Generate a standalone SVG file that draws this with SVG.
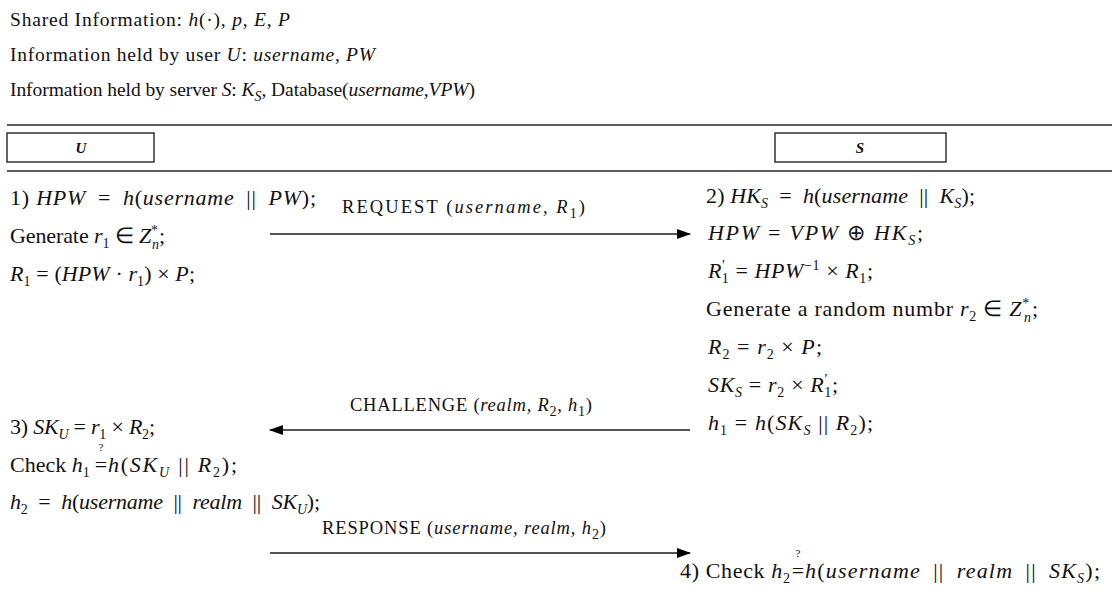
<svg xmlns="http://www.w3.org/2000/svg" width="1112" height="600" viewBox="0 0 1112 600">
<defs>
<style>
text{font-family:"Liberation Serif","Times New Roman",serif;fill:#111;}
.h{font-size:19.5px;}
.b{font-size:22px;}
.i{font-style:italic;}
.s{font-size:14px;}
.lbl{font-size:18.5px;}
.rule{stroke:#222;stroke-width:1.5;}
.box{fill:#fff;stroke:#333;stroke-width:1.5;}
.bl{font-size:15px;font-weight:bold;font-style:italic;text-anchor:middle;}
.arr{stroke:#555;stroke-width:2;fill:none;marker-end:url(#ah);}
.q{font-size:11px;text-anchor:middle;}
</style>
<marker id="ah" viewBox="0 0 14 10" refX="13" refY="5" markerWidth="14" markerHeight="10" markerUnits="userSpaceOnUse" orient="auto">
<path d="M0,0 L14,5 L0,10 Z" fill="#000"/>
</marker>
</defs>
<rect width="1112" height="600" fill="#fff"/>

<g id="header">
<text class="h" x="10" y="26" textLength="280" lengthAdjust="spacing">Shared Information: <tspan class="i">h</tspan>(·), <tspan class="i">p</tspan>, <tspan class="i">E</tspan>, <tspan class="i">P</tspan></text>
<text class="h" x="10" y="61" textLength="365" lengthAdjust="spacing">Information held by user <tspan class="i">U</tspan>: <tspan class="i">username</tspan>, <tspan class="i">PW</tspan></text>
<text class="h" x="10" y="96" textLength="465" lengthAdjust="spacing">Information held by server <tspan class="i">S</tspan>: <tspan class="i">K</tspan><tspan class="s i" dy="5">S</tspan><tspan dy="-5">, Database(</tspan><tspan class="i">username</tspan>,<tspan class="i">VPW</tspan>)</text>
</g>

<g id="rules">
<line class="rule" x1="7" y1="125" x2="1112" y2="125"/>
<line class="rule" x1="7" y1="171" x2="1112" y2="171"/>
</g>

<g id="node-U">
<rect class="box" x="7" y="133" width="147" height="29"/>
<text class="bl" x="81" y="153">U</text>
</g>
<g id="node-S">
<rect class="box" x="775" y="133" width="171" height="29"/>
<text class="bl" x="860" y="153">S</text>
</g>

<g id="user-steps">
<text class="b" x="10" y="205" textLength="306" lengthAdjust="spacing">1) <tspan class="i">HPW</tspan>&#8194;=&#8194;<tspan class="i">h</tspan>(<tspan class="i">username</tspan>&#8194;||&#8194;<tspan class="i">PW</tspan>);</text>
<text class="b" x="10" y="243" textLength="155" lengthAdjust="spacing">Generate <tspan class="i">r</tspan><tspan class="s" dy="5">1</tspan><tspan dy="-5"> ∈ </tspan><tspan class="i">Z</tspan><tspan class="s" dy="-8">*</tspan><tspan class="s i" dx="-6" dy="14">n</tspan><tspan dy="-6">;</tspan></text>
<text class="b" x="10" y="281" textLength="185" lengthAdjust="spacing"><tspan class="i">R</tspan><tspan class="s" dy="5">1</tspan><tspan dy="-5"> = (</tspan><tspan class="i">HPW</tspan> · <tspan class="i">r</tspan><tspan class="s" dy="5">1</tspan><tspan dy="-5">) × </tspan><tspan class="i">P</tspan>;</text>
<text class="b" x="10" y="434" textLength="145" lengthAdjust="spacing">3) <tspan class="i">SK</tspan><tspan class="s i" dy="5">U</tspan><tspan dy="-5"> = </tspan><tspan class="i">r</tspan><tspan class="s" dy="5">1</tspan><tspan dy="-5"> × </tspan><tspan class="i">R</tspan><tspan class="s" dy="5">2</tspan><tspan dy="-5">;</tspan></text>
<text class="b" x="10" y="472">Check <tspan class="i">h</tspan><tspan class="s" dy="5">1</tspan></text>
<text class="q" x="101" y="451">?</text>
<text class="b" x="101" y="472" text-anchor="middle">=</text>
<text class="b" x="108" y="472" textLength="129" lengthAdjust="spacing"><tspan class="i">h</tspan>(<tspan class="i">SK</tspan><tspan class="s i" dy="5">U</tspan><tspan dy="-5"> || </tspan><tspan class="i">R</tspan><tspan class="s" dy="5">2</tspan><tspan dy="-5">);</tspan></text>
<text class="b" x="10" y="509" textLength="310" lengthAdjust="spacing"><tspan class="i">h</tspan><tspan class="s" dy="5">2</tspan><tspan dy="-5">&#8194;=&#8194;</tspan><tspan class="i">h</tspan>(<tspan class="i">username</tspan>&#8194;||&#8194;<tspan class="i">realm</tspan>&#8194;||&#8194;<tspan class="i">SK</tspan><tspan class="s i" dy="5">U</tspan><tspan dy="-5">);</tspan></text>
</g>

<g id="server-steps">
<text class="b" x="706" y="203" textLength="269" lengthAdjust="spacing">2) <tspan class="i">HK</tspan><tspan class="s i" dy="5">S</tspan><tspan dy="-5">&#8194;=&#8194;</tspan><tspan class="i">h</tspan>(<tspan class="i">username</tspan>&#8194;||&#8194;<tspan class="i">K</tspan><tspan class="s i" dy="5">S</tspan><tspan dy="-5">);</tspan></text>
<text class="b" x="708" y="240" textLength="215" lengthAdjust="spacing"><tspan class="i">HPW</tspan> = <tspan class="i">VPW</tspan> ⊕ <tspan class="i">HK</tspan><tspan class="s i" dy="5">S</tspan><tspan dy="-5">;</tspan></text>
<text class="b" x="708" y="278" textLength="165" lengthAdjust="spacing"><tspan class="i">R</tspan><tspan class="s" dy="-8">′</tspan><tspan class="s" dx="-4" dy="13">1</tspan><tspan dy="-5"> = </tspan><tspan class="i">HPW</tspan><tspan class="s" dy="-8">−1</tspan><tspan dy="8"> × </tspan><tspan class="i">R</tspan><tspan class="s" dy="5">1</tspan><tspan dy="-5">;</tspan></text>
<text class="b" x="706" y="316" textLength="332" lengthAdjust="spacing">Generate a random numbr <tspan class="i">r</tspan><tspan class="s" dy="5">2</tspan><tspan dy="-5"> ∈ </tspan><tspan class="i">Z</tspan><tspan class="s" dy="-8">*</tspan><tspan class="s i" dx="-6" dy="14">n</tspan><tspan dy="-6">;</tspan></text>
<text class="b" x="708" y="354" textLength="114" lengthAdjust="spacing"><tspan class="i">R</tspan><tspan class="s" dy="5">2</tspan><tspan dy="-5"> = </tspan><tspan class="i">r</tspan><tspan class="s" dy="5">2</tspan><tspan dy="-5"> × </tspan><tspan class="i">P</tspan>;</text>
<text class="b" x="708" y="392" textLength="130" lengthAdjust="spacing"><tspan class="i">SK</tspan><tspan class="s i" dy="5">S</tspan><tspan dy="-5"> = </tspan><tspan class="i">r</tspan><tspan class="s" dy="5">2</tspan><tspan dy="-5"> × </tspan><tspan class="i">R</tspan><tspan class="s" dy="-8">′</tspan><tspan class="s" dx="-4" dy="13">1</tspan><tspan dy="-5">;</tspan></text>
<text class="b" x="708" y="430" textLength="165" lengthAdjust="spacing"><tspan class="i">h</tspan><tspan class="s" dy="5">1</tspan><tspan dy="-5"> = </tspan><tspan class="i">h</tspan>(<tspan class="i">SK</tspan><tspan class="s i" dy="5">S</tspan><tspan dy="-5"> || </tspan><tspan class="i">R</tspan><tspan class="s" dy="5">2</tspan><tspan dy="-5">);</tspan></text>
<text class="b" x="680" y="578" textLength="110" lengthAdjust="spacing">4) Check <tspan class="i">h</tspan><tspan class="s" dy="5">2</tspan></text>
<text class="q" x="798" y="557">?</text>
<text class="b" x="798" y="578" text-anchor="middle">=</text>
<text class="b" x="805" y="578" textLength="295" lengthAdjust="spacing"><tspan class="i">h</tspan>(<tspan class="i">username</tspan>&#8194;||&#8194;<tspan class="i">realm</tspan>&#8194;||&#8194;<tspan class="i">SK</tspan><tspan class="s i" dy="5">S</tspan><tspan dy="-5">);</tspan></text>
</g>

<g id="connectors">
<line class="arr" x1="270" y1="234" x2="690" y2="234"/>
<line class="arr" x1="690" y1="430" x2="270" y2="430"/>
<line class="arr" x1="270" y1="553" x2="690" y2="553"/>
</g>

<g id="connector-labels">
<text class="lbl" x="342" y="213" textLength="243" lengthAdjust="spacing">REQUEST (<tspan class="i">username</tspan>, <tspan class="i">R</tspan><tspan class="s" dy="5">1</tspan><tspan dy="-5">)</tspan></text>
<text class="lbl" x="350" y="411" textLength="242" lengthAdjust="spacing">CHALLENGE (<tspan class="i">realm</tspan>, <tspan class="i">R</tspan><tspan class="s" dy="5">2</tspan><tspan dy="-5">, </tspan><tspan class="i">h</tspan><tspan class="s" dy="5">1</tspan><tspan dy="-5">)</tspan></text>
<text class="lbl" x="322" y="534" textLength="284" lengthAdjust="spacing">RESPONSE (<tspan class="i">username</tspan>, <tspan class="i">realm</tspan>, <tspan class="i">h</tspan><tspan class="s" dy="5">2</tspan><tspan dy="-5">)</tspan></text>
</g>
</svg>
